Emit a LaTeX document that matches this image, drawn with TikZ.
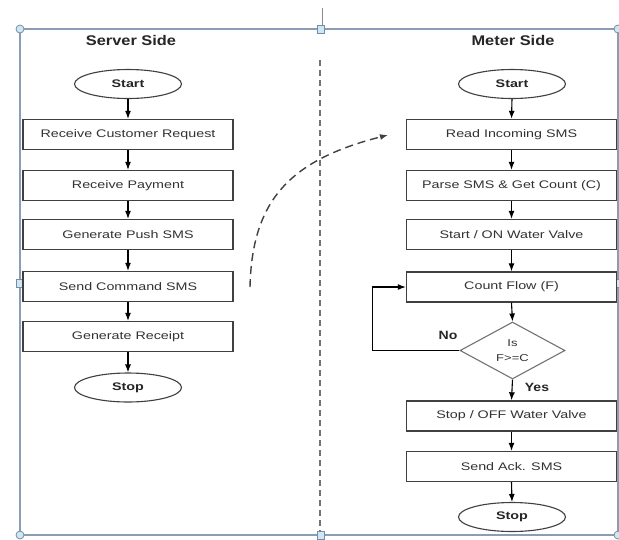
\documentclass[tikz,border=0pt]{standalone}
\usepackage{fontspec}
\setmainfont{Liberation Sans}
\usepackage{graphicx}
\usetikzlibrary{shapes.geometric,arrows.meta}
\newcommand{\wtxt}[1]{\scalebox{1.3}[1]{#1}}
\newcommand{\wttl}[1]{\scalebox{1.17}[1]{#1}}
\definecolor{framec}{RGB}{140,156,178}
\definecolor{handlef}{RGB}{205,232,242}
\definecolor{handled}{RGB}{120,140,165}
\begin{document}
\begin{tikzpicture}[x=1pt,y=-1pt,
  proc/.style={draw=black!75, line width=1.4pt, fill=white, minimum width=210pt, minimum height=30pt, inner sep=0pt, font=\fontsize{11}{13}\selectfont, text=black!80},
  term/.style={ellipse, draw=black!75, line width=1.1pt, fill=white, minimum width=107pt, minimum height=29pt, inner sep=0pt, font=\bfseries\fontsize{11}{13}\selectfont, text=black!85},
  dec/.style={diamond, draw=black!55, line width=1.1pt, fill=white, minimum width=105pt, minimum height=57pt, aspect=1.84, inner sep=0pt, align=center, font=\fontsize{10}{15}\selectfont, text=black!80},
  flow/.style={-{Latex[length=8pt,width=6pt]}, line width=1.1pt, black},
  ttl/.style={font=\bfseries\fontsize{14}{16}\selectfont, text=black!85},
  lbl/.style={font=\bfseries\fontsize{12}{14}\selectfont, text=black!85},
  framel/.style={draw=framec, line width=1.2pt},
  hsq/.style={rectangle, draw=handled, fill=handlef, line width=0.8pt, minimum width=7pt, minimum height=8pt, inner sep=0pt},
  hci/.style={circle, draw=handled, fill=handlef, line width=0.8pt, minimum size=8pt, inner sep=0pt},
  sep/.style={draw=black!55, line width=1.5pt, dash pattern=on 6pt off 4pt},
  msg/.style={-{Latex[length=8pt,width=6pt]}, draw=black!75, line width=1.4pt, dash pattern=on 8pt off 5pt}
]
\useasboundingbox (0,0) rectangle (619,539);
\fill[white] (0,0) rectangle (619,539);

% frame
\draw[framel] (20,29) rectangle (618,535);
\draw[draw=black!45, line width=1pt] (322,8) -- (322,29);
\draw[sep] (320,60) -- (320,535);

% handles
\node[hci] (h1) at (20,29) {};
\node[hci] (h2) at (20,535) {};
\node[hci] (h3) at (618,29) {};
\node[hci] (h4) at (618,535) {};
\node[hsq] (h5) at (321,29) {};
\node[hsq] (h6) at (20,283) {};
\node[hsq] (h7) at (321,535) {};
\node[hsq] (h8) at (618,283) {};

% titles
\node[ttl] (t1) at (131,40) {\wttl{Server Side}};
\node[ttl] (t2) at (513,40) {\wttl{Meter Side}};

% server side
\node[term] (s0) at (128,84) {\wtxt{Start}};
\node[proc] (s1) at (128,134.5) {\wtxt{Receive Customer Request}};
\node[proc] (s2) at (128,185.5) {\wtxt{Receive Payment}};
\node[proc] (s3) at (128,234.5) {\wtxt{Generate Push SMS}};
\node[proc] (s4) at (128,286.5) {\wtxt{Send Command SMS}};
\node[proc] (s5) at (128,336.5) {\wtxt{Generate Receipt}};
\node[term] (s6) at (128,387.5) {\wtxt{Stop}};
\foreach \a/\b in {s0/s1,s1/s2,s2/s3,s3/s4,s4/s5,s5/s6}
  \draw[flow] (\a.south) -- (\b.north);

% meter side
\node[term] (m0) at (512,84) {\wtxt{Start}};
\node[proc] (m1) at (511.5,134.5) {\wtxt{Read Incoming SMS}};
\node[proc] (m2) at (511.5,185.5) {\wtxt{Parse SMS \& Get Count (C)}};
\node[proc] (m3) at (511.5,234.5) {\wtxt{Start / ON Water Valve}};
\node[proc] (m4) at (511.5,287) {\wtxt{Count Flow (F)}};
\node[dec] (m5) at (512.5,350.5) {\wtxt{Is}\\\wtxt{F>=C}};
\node[proc] (m6) at (511.5,416) {\wtxt{Stop / OFF Water Valve}};
\node[proc] (m7) at (511.5,466.5) {\wtxt{Send Ack. SMS}};
\node[term] (m8) at (512,517) {\wtxt{Stop}};
\foreach \a/\b in {m0/m1,m1/m2,m2/m3,m3/m4,m4/m5,m5/m6,m6/m7,m7/m8}
  \draw[flow] (\a.south) -- (\b.north);
\draw[flow] (m5.west) -- ++(-87,0) |- (m4.west);
\node[lbl] (no) at (448,335) {\wttl{No}};
\node[lbl] (yes) at (537,387) {\wttl{Yes}};

% message from server to meter
\coordinate (ds) at (250,287);
\coordinate (de) at (388,135);
\draw[msg] (ds) .. controls (252,200) and (290,160) .. (de);
\end{tikzpicture}
\end{document}
